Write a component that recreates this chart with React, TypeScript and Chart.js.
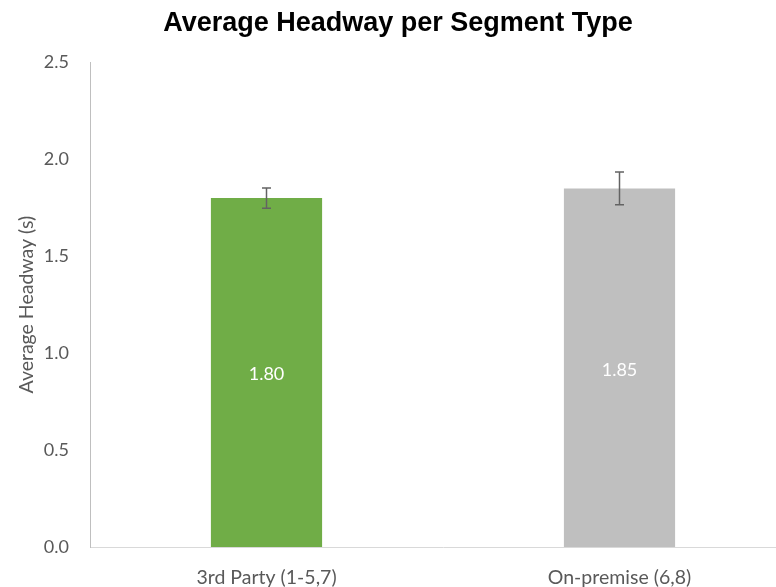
import React, { useEffect, useRef } from 'react';
import { Chart, registerables } from 'chart.js';

Chart.register(...registerables);

const categories = ['3rd Party (1-5,7)', 'On-premise (6,8)'];
const values = [1.8, 1.85];
const errors = [0.052, 0.084];
const valueLabels = ['1.80', '1.85'];
const barColors = ['#70AD47', '#BFBFBF'];
const yMin = 0;
const yMax = 2.5;
const yStep = 0.5;
const titleText = 'Average Headway per Segment Type';
const yTitleText = 'Average Headway (s)';

const FONT = 'Lato';

const errorBarPlugin = {
  id: 'errorBars',
  afterDatasetsDraw(chart: any) {
    const ctx = chart.ctx;
    const meta = chart.getDatasetMeta(0);
    const yScale = chart.scales.y;
    ctx.save();
    ctx.strokeStyle = '#636363';
    ctx.lineWidth = 1.5;
    meta.data.forEach((bar: any, i: number) => {
      const x = bar.x;
      const yTop = yScale.getPixelForValue(values[i] + errors[i]);
      const yBot = yScale.getPixelForValue(values[i] - errors[i]);
      const cap = 4.5;
      ctx.beginPath();
      ctx.moveTo(x, yTop);
      ctx.lineTo(x, yBot);
      ctx.moveTo(x - cap, yTop);
      ctx.lineTo(x + cap, yTop);
      ctx.moveTo(x - cap, yBot);
      ctx.lineTo(x + cap, yBot);
      ctx.stroke();
    });
    ctx.restore();
  },
};

const dataLabelPlugin = {
  id: 'dataLabels',
  afterDatasetsDraw(chart: any) {
    const ctx = chart.ctx;
    const meta = chart.getDatasetMeta(0);
    ctx.save();
    ctx.fillStyle = '#ffffff';
    ctx.font = `18px ${FONT}`;
    ctx.textAlign = 'center';
    ctx.textBaseline = 'middle';
    meta.data.forEach((bar: any, i: number) => {
      const y = (bar.y + bar.base) / 2 + 2;
      ctx.fillText(valueLabels[i], bar.x, y);
    });
    ctx.restore();
  },
};

export default function App() {
  const ref = useRef<HTMLCanvasElement>(null);
  useEffect(() => {
    if (!ref.current) return;
    const chart = new Chart(ref.current, {
      type: 'bar',
      data: {
        labels: categories,
        datasets: [
          {
            data: values,
            backgroundColor: barColors,
            borderWidth: 0,
            categoryPercentage: 1,
            barPercentage: 0.315,
          },
        ],
      },
      options: {
        responsive: false,
        devicePixelRatio: 1,
        animation: false,
        layout: { padding: { left: 0, right: 4, top: 0, bottom: 0 } },
        plugins: {
          legend: { display: false },
          tooltip: { enabled: false },
          title: {
            display: true,
            text: titleText,
            color: '#000000',
            font: { family: 'Liberation Sans', size: 27, weight: 'bold' },
            padding: { top: 7, bottom: 23 },
          },
        },
        scales: {
          x: {
            grid: { display: false, drawTicks: false },
            border: { display: true, color: '#d9d9d9', width: 1 },
            ticks: {
              color: '#595959',
              font: { family: FONT, size: 19.5 },
              padding: 19,
            },
            afterFit(scale: any) {
              scale.height = 40;
            },
          },
          y: {
            min: yMin,
            max: yMax,
            grid: { display: false, drawTicks: false },
            border: { display: true, color: '#bfbfbf', width: 1 },
            ticks: {
              stepSize: yStep,
              color: '#595959',
              font: { family: FONT, size: 18 },
              padding: 21,
              callback: (v: any) => Number(v).toFixed(1),
            },
            title: {
              display: true,
              text: yTitleText,
              color: '#595959',
              font: { family: FONT, size: 19.5 },
              padding: { top: 15, bottom: 0 },
            },
            afterFit(scale: any) {
              scale.width = 90;
            },
          },
        },
      },
      plugins: [errorBarPlugin, dataLabelPlugin],
    });
    return () => chart.destroy();
  }, []);
  return (
    <div
      style={{
        position: 'fixed',
        left: 0,
        top: 0,
        width: 776,
        height: 587,
        overflow: 'hidden',
        background: '#ffffff',
      }}
    >
      <canvas ref={ref} width={800} height={587} style={{ display: 'block' }} />
    </div>
  );
}
